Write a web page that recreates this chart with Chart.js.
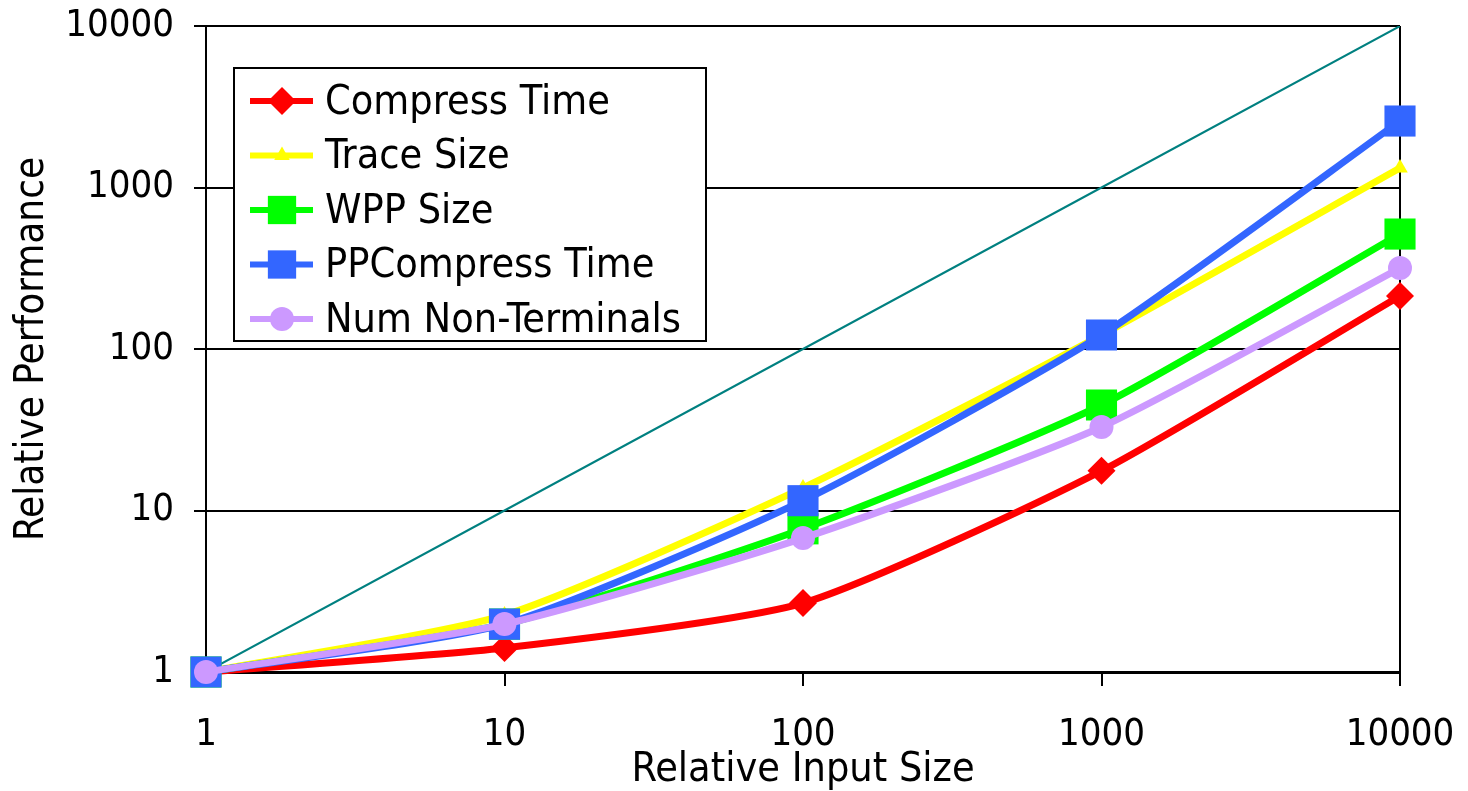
<!DOCTYPE html>
<html lang="en">
<head>
    <meta charset="UTF-8">
    <title>Relative Performance</title>
    <style>
        html, body { margin: 0; padding: 0; background: #fff; }
        #wrap { width: 1468px; height: 791px; }
    </style>
    <script src="https://cdn.jsdelivr.net/npm/chart.js"></script>
</head>
<body>
<div id="wrap"><canvas id="chart" width="1468" height="791"></canvas></div>
<script>
    // data (log-log)
    const inputSizes = [1, 10, 100, 1000, 10000];
    const tickValues = [1, 10, 100, 1000, 10000];
    const compressTime = [1, 1.41, 2.67, 17.6, 213];
    const traceSize = [1, 2.25, 13.8, 122, 1320];
    const wppSize = [1, 1.98, 7.7, 45, 515];
    const ppCompressTime = [1, 1.98, 11.5, 122, 2580];
    const numNonTerminals = [1, 1.98, 6.75, 32.9, 317];
    const linearRef = [1, 10, 100, 1000, 10000];

    const FONT = "'DejaVu Sans Condensed', 'DejaVu Sans', sans-serif";

    function pts(ys) {
        return inputSizes.map((x, i) => ({ x: x, y: ys[i] }));
    }

    function series(label, ys, color, style, radius, order) {
        return {
            label: label,
            data: pts(ys),
            borderColor: color,
            backgroundColor: color,
            borderWidth: 7,
            pointStyle: style,
            pointRadius: radius,
            pointBorderWidth: 0,
            tension: 0.2,
            clip: false,
            order: order
        };
    }

    const datasets = [
        series("Compress Time", compressTime, "#ff0000", "rectRot", 14, 5),
        series("Trace Size", traceSize, "#ffff00", "triangle", 9, 4),
        series("WPP Size", wppSize, "#00ff00", "rect", 22, 3),
        series("PPCompress Time", ppCompressTime, "#3366ff", "rect", 22, 2),
        series("Num Non-Terminals", numNonTerminals, "#cc99ff", "circle", 12, 1),
        {
            label: "",
            data: pts(linearRef),
            borderColor: "#008080",
            borderWidth: 2,
            pointRadius: 0,
            tension: 0,
            order: 6,
            inLegend: false
        }
    ];

    // legend box drawn inside the plot
    const boxLegend = {
        id: "boxLegend",
        afterDraw(chart) {
            const ctx = chart.ctx;
            const x0 = 234, y0 = 68, w = 472, h = 273;
            ctx.save();
            ctx.fillStyle = "#fff";
            ctx.fillRect(x0, y0, w, h);
            ctx.strokeStyle = "#000";
            ctx.lineWidth = 2;
            ctx.strokeRect(x0, y0, w, h);
            ctx.font = "41px " + FONT;
            ctx.textBaseline = "middle";
            let y = 101;
            chart.data.datasets.forEach(ds => {
                if (ds.inLegend === false) return;
                ctx.strokeStyle = ds.borderColor;
                ctx.lineWidth = 6;
                ctx.beginPath();
                ctx.moveTo(250, y);
                ctx.lineTo(313, y);
                ctx.stroke();
                ctx.fillStyle = ds.backgroundColor;
                Chart.helpers.drawPoint(ctx, {
                    pointStyle: ds.pointStyle,
                    radius: ds.pointStyle === "rect" ? 20 : ds.pointRadius,
                    rotation: 0,
                    borderWidth: 0
                }, 282, y);
                ctx.fillStyle = "#000";
                ctx.fillText(ds.label, 325, y + 2);
                y += 54.5;
            });
            ctx.restore();
        }
    };

    const onlyDecades = scale => {
        scale.ticks = tickValues.map(v => ({ value: v, major: true }));
    };

    new Chart(document.getElementById("chart"), {
        type: "line",
        data: { datasets: datasets },
        plugins: [boxLegend],
        options: {
            responsive: false,
            animation: false,
            layout: { padding: { top: 26, right: 68, left: 0, bottom: 0 } },
            plugins: {
                legend: { display: false },
                tooltip: { enabled: false }
            },
            scales: {
                x: {
                    type: "logarithmic",
                    min: 1,
                    max: 10000,
                    afterBuildTicks: onlyDecades,
                    afterFit: s => {
                        s.height = 119;
                        s.paddingLeft = 0;
                        s.paddingRight = 0;
                    },
                    ticks: {
                        color: "#000",
                        font: { family: FONT, size: 38 },
                        padding: 26,
                        maxRotation: 0,
                        autoSkip: false,
                        callback: v => String(v)
                    },
                    grid: {
                        drawOnChartArea: true,
                        color: c => (c.tick && c.tick.value === 10000 ? "#000" : "rgba(0,0,0,0)"),
                        lineWidth: 2,
                        tickColor: "#000",
                        tickLength: 14
                    },
                    border: { color: "#000", width: 3 },
                    title: {
                        display: true,
                        text: "Relative Input Size",
                        color: "#000",
                        font: { family: FONT, size: 41 },
                        padding: { top: 0, bottom: -4 }
                    }
                },
                y: {
                    type: "logarithmic",
                    min: 1,
                    max: 10000,
                    afterBuildTicks: onlyDecades,
                    afterFit: s => {
                        s.width = 206;
                        s.paddingTop = 0;
                        s.paddingBottom = 0;
                    },
                    ticks: {
                        color: "#000",
                        font: { family: FONT, size: 38 },
                        padding: 20,
                        autoSkip: false,
                        callback: v => String(v)
                    },
                    grid: {
                        color: "#000",
                        lineWidth: 2,
                        tickColor: "#000",
                        tickLength: 12
                    },
                    border: { color: "#000", width: 2 },
                    title: {
                        display: true,
                        text: "Relative Performance",
                        color: "#000",
                        font: { family: FONT, size: 40 },
                        padding: { top: 9, bottom: 0 }
                    }
                }
            }
        }
    });
</script>
</body>
</html>
